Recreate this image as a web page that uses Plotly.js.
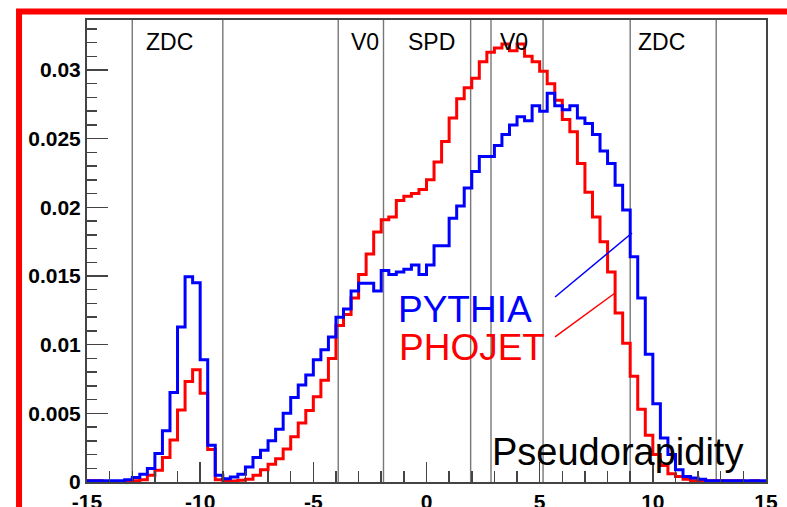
<!DOCTYPE html>
<html>
<head>
<meta charset="utf-8">
<script src="https://cdn.plot.ly/plotly-3.0.1.min.js"></script>
<style>
  html, body { margin: 0; padding: 0; background: #fff; }
  #chart { width: 787px; height: 507px; }
</style>
</head>
<body>
<div id="chart"></div>
<script>
// Histogram binning
const nBins = 90;
const xMin = -15;
const xMax = 15;

// PYTHIA (blue) bin contents
const pythia = [
  0.0001, 0.0001, 0.0001, 0.0001, 0.0001,
  0.00017, 0.00032, 0.00056, 0.00098, 0.00207,
  0.00373, 0.00651, 0.01129, 0.01495, 0.01451,
  0.0089, 0.00268, 0.00049, 0.00024, 0.00037,
  0.00056, 0.0011, 0.00178, 0.00232, 0.0030,
  0.00385, 0.0050, 0.00615, 0.00707, 0.0078,
  0.0089, 0.00963, 0.01056, 0.0120, 0.0126,
  0.0139, 0.01447, 0.01447, 0.0139, 0.0154,
  0.0151, 0.0153, 0.0155, 0.0158, 0.0151,
  0.0158, 0.0172, 0.0172, 0.0192, 0.0201,
  0.0214, 0.0226, 0.0237, 0.0237, 0.0245,
  0.0253, 0.0260, 0.0266, 0.0263, 0.0274,
  0.0270, 0.0283, 0.0274, 0.0271, 0.0274,
  0.0265, 0.0261, 0.0253, 0.0241, 0.0232,
  0.0216, 0.0198, 0.0164, 0.0134, 0.0093,
  0.0057, 0.0032, 0.0020, 0.0009, 0.0004,
  0.0003, 0.0002, 0.0001, 0.0001, 0.0001,
  0.0001, 0.0001, 0.0001, 0.0001, 0.0001
];

// PHOJET (red) bin contents
const phojet = [
  0.0001, 0.0001, 0, 0, 0,
  0, 0.0001, 0.00017, 0.00049, 0.00085,
  0.00178, 0.00305, 0.00524, 0.00732, 0.00817,
  0.00646, 0.00237, 0.00017, 0.00007, 0.00007,
  0.00012, 0.0002, 0.0005, 0.0009, 0.0013,
  0.0017, 0.0024, 0.0033, 0.0043, 0.0052,
  0.0062, 0.0074, 0.0090, 0.0114, 0.0122,
  0.0134, 0.0151, 0.0166, 0.0182, 0.0191,
  0.0193, 0.0205, 0.0208, 0.0210, 0.0213,
  0.0220, 0.0233, 0.0248, 0.0265, 0.0279,
  0.0287, 0.0294, 0.0306, 0.0313, 0.0316,
  0.0319, 0.0314, 0.0319, 0.0310, 0.0306,
  0.0299, 0.0290, 0.0278, 0.0264, 0.0255,
  0.0232, 0.0211, 0.0193, 0.0175, 0.0153,
  0.0123, 0.0101, 0.0077, 0.0053, 0.0034,
  0.0020, 0.0012, 0.0006, 0.0004, 0.0002,
  0.0001, 0.0001, 0.0001, 0.0001, 0.0001,
  0.0001, 0.0001, 0, 0.0001, 0
];

// Axis ticks
const xTickVals = [-15, -10, -5, 0, 5, 10, 15];
const xTickText = ['-15', '-10', '-5', '0', '5', '10', '15'];

// Detector acceptance boundaries (vertical lines) and labels
const detectorEdges = [-13, -9, -3.9, -1.9, 1.95, 2.85, 5.15, 9, 12.8];
const detectorLabels = ['ZDC', 'V0', 'SPD', 'V0', 'ZDC'];
const detectorLabelX = [-11.35, -2.7, 0.2, 3.85, 10.4];

// Series names
const seriesNames = ['PYTHIA', 'PHOJET'];

function stepTrace(vals, color, name) {
  const w = (xMax - xMin) / nBins;
  const xs = [], ys = [];
  for (let i = 0; i < vals.length; i++) { xs.push(xMin + i * w); ys.push(vals[i]); }
  xs.push(xMax); ys.push(vals[vals.length - 1]);
  return {
    x: xs, y: ys, type: 'scatter', mode: 'lines', name: name,
    line: { shape: 'hv', color: color, width: 3 },
    hoverinfo: 'skip', showlegend: false
  };
}

const font = 'Liberation Sans, Arial, Helvetica, sans-serif';

const shapes = [];
detectorEdges.forEach(e => shapes.push({
  type: 'line', xref: 'x', yref: 'paper', x0: e, x1: e, y0: 0, y1: 1,
  line: { color: '#777', width: 1.4 }, layer: 'below'
}));
// pointer lines from labels to curves
shapes.push({ type: 'line', xref: 'x', yref: 'y', x0: 5.68, y0: 0.01347, x1: 9.08, y1: 0.01813,
  line: { color: '#0000ff', width: 1.5 } });
shapes.push({ type: 'line', xref: 'x', yref: 'y', x0: 5.68, y0: 0.01056, x1: 8.33, y1: 0.01376,
  line: { color: '#ff0000', width: 1.5 } });
// red slide border
shapes.push({ type: 'rect', xref: 'paper', yref: 'paper', x0: -0.1001, x1: 1.3, y0: -0.3, y1: 1.0184,
  line: { color: '#ff0000', width: 6 }, fillcolor: 'rgba(0,0,0,0)' });

const annotations = [];
detectorLabels.forEach((t, i) => annotations.push({
  text: t, xref: 'x', yref: 'paper', x: detectorLabelX[i], y: 0.9524,
  showarrow: false, xanchor: 'center', yanchor: 'middle',
  font: { family: font, size: 23, color: '#000' }
}));
annotations.push({ text: 'Pseudorapidity', xref: 'paper', yref: 'paper', x: 0.782, y: 0.0641,
  showarrow: false, xanchor: 'center', yanchor: 'middle',
  font: { family: font, size: 38, color: '#000' } });
annotations.push({ text: seriesNames[0], xref: 'paper', yref: 'paper', x: 0.556, y: 0.3736,
  showarrow: false, xanchor: 'center', yanchor: 'middle',
  font: { family: font, size: 37, color: '#0000ff' } });
annotations.push({ text: seriesNames[1], xref: 'paper', yref: 'paper', x: 0.5675, y: 0.2913,
  showarrow: false, xanchor: 'center', yanchor: 'middle',
  font: { family: font, size: 37, color: '#ff0000' } });

const layout = {
  width: 787, height: 507,
  margin: { l: 87, r: 21, t: 20, b: 25, pad: 0 },
  paper_bgcolor: '#fff', plot_bgcolor: '#fff',
  showlegend: false,
  xaxis: {
    range: [xMin, xMax], showgrid: false, zeroline: false,
    showline: true, mirror: true, linecolor: '#444', linewidth: 2,
    ticks: 'inside', ticklen: 20, tickwidth: 1.5, tickcolor: '#444',
    tickmode: 'array', tickvals: xTickVals, ticktext: xTickText,
    tickfont: { family: font, size: 21, color: '#000', weight: 'bold' },
    minor: { tickmode: 'linear', tick0: 0, dtick: 1, ticks: 'inside', ticklen: 11, tickwidth: 1.5, tickcolor: '#444', showgrid: false }
  },
  yaxis: {
    range: [0, 0.03364], showgrid: false, zeroline: false,
    showline: true, mirror: true, linecolor: '#444', linewidth: 2,
    ticks: 'inside', ticklen: 21, tickwidth: 1.5, tickcolor: '#444',
    tickmode: 'linear', tick0: 0, dtick: 0.005,
    ticklabelstandoff: 0,
    tickfont: { family: font, size: 21, color: '#000', weight: 'bold' },
    minor: { tickmode: 'linear', tick0: 0, dtick: 0.001, ticks: 'inside', ticklen: 10, tickwidth: 1.5, tickcolor: '#444', showgrid: false }
  },
  shapes: shapes,
  annotations: annotations
};

Plotly.newPlot('chart', [stepTrace(phojet, '#ff0000', seriesNames[1]), stepTrace(pythia, '#0000ff', seriesNames[0])], layout, { staticPlot: true, displayModeBar: false });
</script>
</body>
</html>
